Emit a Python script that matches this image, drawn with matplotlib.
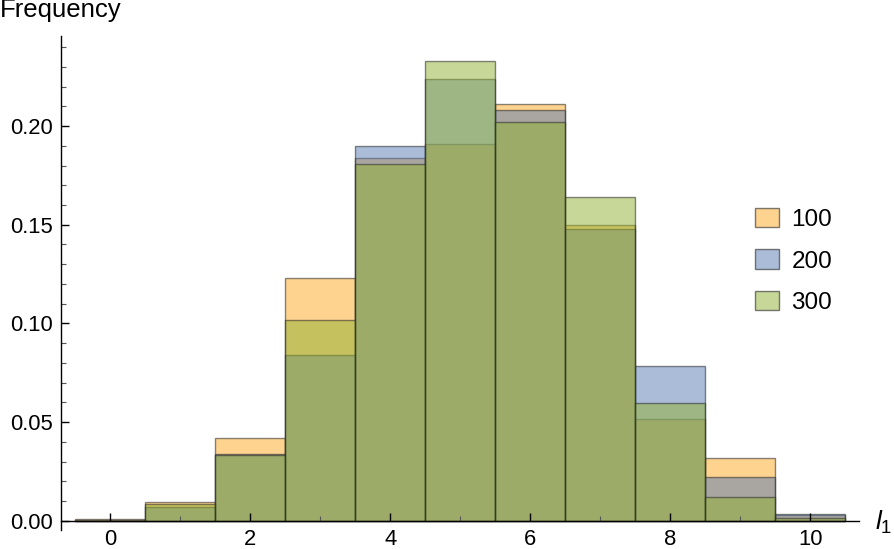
import matplotlib
matplotlib.use("Agg")
import matplotlib.pyplot as plt
from matplotlib.patches import Patch
from matplotlib.ticker import MultipleLocator, FixedLocator

# ---- data ----
categories = [0, 1, 2, 3, 4, 5, 6, 7, 8, 9, 10]
v100 = [0.001, 0.0097, 0.0422, 0.123, 0.184, 0.191, 0.211, 0.150, 0.0515, 0.0317, 0.0032]
v200 = [0.0, 0.007, 0.034, 0.084, 0.190, 0.224, 0.208, 0.148, 0.0787, 0.0224, 0.0033]
v300 = [0.0003, 0.0085, 0.0334, 0.102, 0.181, 0.233, 0.202, 0.164, 0.0597, 0.0123, 0.0013]
series_labels = ["100", "200", "300"]
x_ticks = [0, 2, 4, 6, 8, 10]
y_ticks = [0.00, 0.05, 0.10, 0.15, 0.20]

colors = [(253/255, 169/255, 33/255), (87/255, 123/255, 179/255), (145/255, 177/255, 49/255)]

plt.rcParams['font.family'] = ['Liberation Sans', 'DejaVu Sans']
plt.rcParams['mathtext.fontset'] = 'custom'
plt.rcParams['mathtext.it'] = 'Liberation Sans:italic'
plt.rcParams['mathtext.rm'] = 'Liberation Sans'

fig = plt.figure(figsize=(8.94, 5.49), dpi=100)
ax = fig.add_axes([61/894, 19/549, 801/894, 494/549])

for vals, col, lab in zip([v100, v200, v300], colors, series_labels):
    ax.bar(categories, vals, width=1.0, align='center',
           facecolor=col + (0.5,), edgecolor=(0.15, 0.15, 0.15, 0.55),
           linewidth=1.0, label=lab)

ax.set_xlim(-0.707, 10.736)
ax.set_ylim(-0.0046, 0.2456)

for s in ['top', 'right']:
    ax.spines[s].set_visible(False)
ax.spines['bottom'].set_position(('data', 0))
ax.spines['bottom'].set_bounds(-0.707, 10.7)
for s in ['left', 'bottom']:
    ax.spines[s].set_linewidth(1.0)
    ax.spines[s].set_color('black')

ax.xaxis.set_major_locator(FixedLocator(x_ticks))
ax.xaxis.set_minor_locator(FixedLocator([1, 3, 5, 7, 9]))
ax.yaxis.set_major_locator(FixedLocator(y_ticks))
ax.yaxis.set_minor_locator(MultipleLocator(0.01))
ax.set_yticklabels([f"{t:.2f}" for t in y_ticks])
ax.set_xticklabels([str(t) for t in x_ticks])

ax.tick_params(axis='both', which='major', direction='in', length=6, width=1.0,
               labelsize=15.8, color='black')
ax.tick_params(axis='both', which='minor', direction='in', length=3.5, width=0.8,
               color='#555555')
ax.tick_params(axis='y', which='major', pad=6.0)
ax.tick_params(axis='x', which='major', pad=5.6)

fig.text(0.0, 1 - 17.5/549, "Frequency", fontsize=18.5, ha='left', va='baseline')
fig.text(892/894, 1 - 522/549, r"$l_1$", fontsize=19, ha='right', va='center')

handles = [Patch(facecolor=c + (0.5,), edgecolor=(0.15, 0.15, 0.15, 0.6), linewidth=1.0)
           for c in colors]
ax.legend(handles, series_labels, loc='center left',
          bbox_to_anchor=(755/894, 1 - 261/549), bbox_transform=fig.transFigure,
          frameon=False, fontsize=17.5, handlelength=1.0, handleheight=0.85,
          labelspacing=0.75, handletextpad=0.5, borderpad=0, borderaxespad=0)

fig.savefig("out.png", dpi=100)
